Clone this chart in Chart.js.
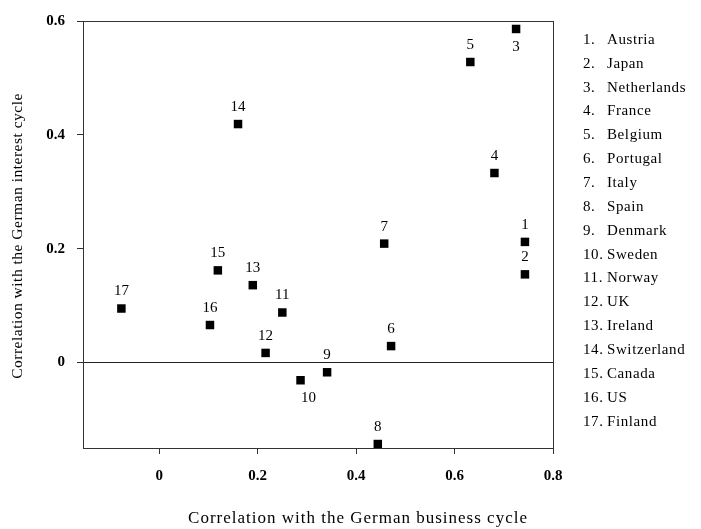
<!DOCTYPE html>
<html>
<head>
<meta charset="utf-8">
<script src="https://cdn.jsdelivr.net/npm/chart.js@4/dist/chart.umd.min.js"></script>
<style>
  body { margin: 0; background: #fff; }
  canvas { display: block; }
</style>
</head>
<body>
<canvas id="grafico" width="701" height="529"></canvas>
<script>
// Datos
const countries = ["Austria", "Japan", "Netherlands", "France", "Belgium", "Portugal", "Italy",
  "Spain", "Denmark", "Sweden", "Norway", "UK", "Ireland", "Switzerland", "Canada", "US", "Finland"];
const businessCorr = [0.743, 0.743, 0.725, 0.681, 0.632, 0.471, 0.457, 0.444, 0.341, 0.287,
  0.250, 0.216, 0.190, 0.160, 0.119, 0.103, -0.077];
const interestCorr = [0.212, 0.155, 0.586, 0.333, 0.528, 0.029, 0.209, -0.143, -0.017, -0.031,
  0.088, 0.017, 0.136, 0.419, 0.162, 0.066, 0.095];
const xTicks = [0, 0.2, 0.4, 0.6, 0.8];
const yTicks = [0, 0.2, 0.4, 0.6];
const labelsBelow = [3, 10]; // numeros que van debajo del punto

const serif = "'Liberation Serif', 'DejaVu Serif', serif";

document.addEventListener("DOMContentLoaded", function () {
  grafico();
});

function fmt(v) {
  return v === 0 ? "0" : v.toFixed(1);
}

// Caja, etiquetas de puntos, lista de paises y titulos
const extras = {
  id: "extras",
  afterDraw(chart) {
    const ctx = chart.ctx;
    const a = chart.chartArea;
    ctx.save();
    ctx.strokeStyle = "#333";
    ctx.lineWidth = 1;
    ctx.strokeRect(a.left + 0.5, a.top + 0.5, a.right - a.left, a.bottom - a.top);

    // numeros junto a cada punto
    ctx.fillStyle = "#000";
    ctx.font = "15px " + serif;
    ctx.textAlign = "center";
    ctx.textBaseline = "middle";
    const meta = chart.getDatasetMeta(0);
    meta.data.forEach((pt, i) => {
      const n = i + 1;
      if (labelsBelow.includes(n)) {
        ctx.fillText(String(n), pt.x + (n === 10 ? 8 : 0), pt.y + 18);
      } else {
        ctx.fillText(String(n), pt.x, pt.y - 17);
      }
    });

    // lista de paises
    ctx.textAlign = "left";
    ctx.font = "15px " + serif;
    ctx.letterSpacing = "0.6px";
    countries.forEach((c, i) => {
      const y = 40 + i * 23.85;
      ctx.fillText((i + 1) + ".", 583, y);
      ctx.fillText(c, 607, y);
    });

    // titulos de ejes
    ctx.textAlign = "center";
    ctx.font = "17px " + serif;
    ctx.letterSpacing = "1px";
    ctx.fillText("Correlation with the German business cycle", 358, 519);
    ctx.translate(18, 236);
    ctx.rotate(-Math.PI / 2);
    ctx.font = "15.5px " + serif;
    ctx.letterSpacing = "0.5px";
    ctx.fillText("Correlation with the German interest cycle", 0, 0);
    ctx.restore();
  }
};

function grafico() {
  const ctx = document.getElementById("grafico").getContext("2d");

  new Chart(ctx, {
    type: "scatter",
    data: {
      datasets: [
        {
          label: "Countries",
          data: businessCorr.map((x, i) => ({ x: x, y: interestCorr[i] })),
          backgroundColor: "#000",
          borderWidth: 0,
          pointStyle: "rect",
          pointRadius: 6,
          pointHoverRadius: 6,
        },
      ],
    },
    options: {
      responsive: false,
      animation: false,
      layout: { padding: { left: 0, top: 13, right: 148, bottom: 0 } },
      plugins: {
        legend: { display: false },
        tooltip: { enabled: false },
      },
      scales: {
        x: {
          type: "linear",
          min: -0.155,
          max: 0.8,
          afterBuildTicks: (s) => { s.ticks = xTicks.map((v) => ({ value: v })); },
          afterFit: (s) => { s.height = 81; },
          border: { display: true, color: "#333" },
          grid: {
            drawOnChartArea: false,
            tickLength: 6,
            tickColor: "#333",
          },
          ticks: {
            color: "#000",
            padding: 13,
            maxRotation: 0,
            font: { family: serif, size: 15, weight: "bold" },
            callback: (v) => fmt(v),
          },
        },
        y: {
          type: "linear",
          min: -0.15,
          max: 0.6,
          afterBuildTicks: (s) => { s.ticks = yTicks.map((v) => ({ value: v })); },
          afterFit: (s) => { s.width = 83; },
          border: { display: true, color: "#333" },
          grid: {
            color: (c) => (c.tick && c.tick.value === 0 ? "#222" : "rgba(0,0,0,0)"),
            tickLength: 6,
            tickColor: "#333",
          },
          ticks: {
            color: "#000",
            padding: 12,
            font: { family: serif, size: 15, weight: "bold" },
            callback: (v) => fmt(v),
          },
        },
      },
    },
    plugins: [extras],
  });
}
</script>
</body>
</html>
